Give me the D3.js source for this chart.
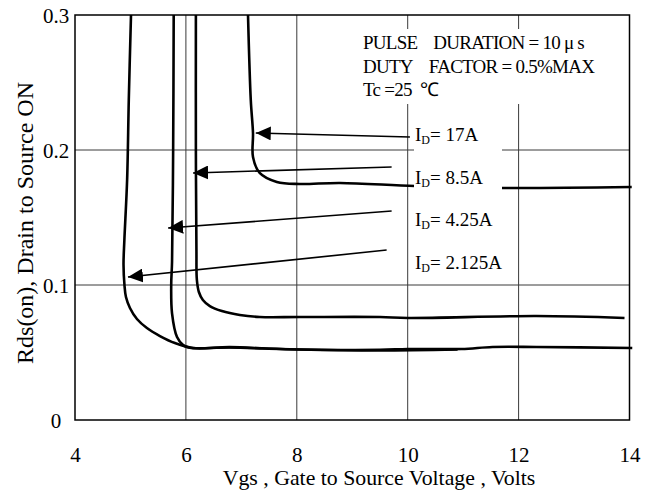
<!DOCTYPE html>
<html>
<head>
<meta charset="utf-8">
<script src="https://cdn.jsdelivr.net/npm/d3@7"></script>
<style>
  html, body { margin: 0; padding: 0; background: #fff; }
  svg { display: block; font-family: "Liberation Serif", "Times New Roman", serif; }
</style>
</head>
<body>
<svg id="chart" width="654" height="491"></svg>
<script>
// Rds(on) versus gate-source voltage, one curve per drain current
const xTicks = [4, 6, 8, 10, 12, 14];
const yTicks = [0, 0.1, 0.2, 0.3];
const yTickLabels = ["0", "0.1", "0.2", "0.3"];

// [Vgs (V), Rds(on) (ohm)]
const curve2125 = [[5.01,0.300],[4.97,0.237],[4.94,0.178],[4.89,0.133],[4.875,0.115],[4.892,0.100],
  [4.919,0.0911],[4.991,0.0830],[5.117,0.0748],[5.297,0.0681],[5.532,0.0622],[5.802,0.0570],
  [6.13,0.0533],[6.79,0.054],[7.69,0.0526],[9.50,0.052],
  [10.0,0.0526],[10.97,0.0526],[11.53,0.0541],[12.32,0.0541],[14.05,0.0533]];
const curve425 = [[5.78,0.300],[5.77,0.200],[5.75,0.117],[5.735,0.100],[5.75,0.079],[5.84,0.0615],
  [5.95,0.0556],[6.07,0.0535],[6.79,0.0537],[8.05,0.0522],[9.50,0.0515],[10.9,0.0522]];
const curve85 = [[6.18,0.300],[6.18,0.200],[6.19,0.125],[6.198,0.1037],[6.234,0.0948],[6.306,0.0889],
  [6.432,0.0844],[6.649,0.0807],[6.973,0.0778],[7.333,0.0763],[8.05,0.0763],[9.50,0.0763],
  [10.0,0.0756],[12.32,0.0770],[13.91,0.0756]];
const curve17 = [[7.12,0.300],[7.17,0.237],[7.21,0.2126],[7.21,0.1948],[7.33,0.183],[7.64,0.1763],
  [8.05,0.1748],[8.78,0.1756],[10.13,0.1733],[11.69,0.1719],[14.04,0.1726]];
const curves = [curve2125, curve425, curve85, curve17];

// Leader arrows: label end -> point on the curve
const arrowFrom = [[10.04,0.2096],[9.71,0.1874],[9.71,0.1548],[9.62,0.1259]];
const arrowTo   = [[7.26,0.2126],[6.13,0.1830],[5.68,0.1422],[4.955,0.1059]];
const currentLabels = ["17A", "8.5A", "4.25A", "2.125A"];

const headerLines = ["PULSE\u00a0\u00a0\u00a0\u00a0DURATION = 10 \u03bc s",
                     "DUTY\u00a0\u00a0\u00a0\u00a0FACTOR = 0.5%MAX",
                     "Tc =25\u00a0\u00a0\u2103"];

const svg = d3.select("#chart");
const M = { left: 75, right: 629.5, top: 15, bottom: 420 };
const x = d3.scaleLinear().domain([4, 14]).range([M.left, M.right]);
const y = d3.scaleLinear().domain([0, 0.3]).range([M.bottom, M.top]);

// grid
const grid = svg.append("g").attr("stroke", "#3a3a3a").attr("stroke-width", 1);
grid.selectAll("line.v").data(xTicks.slice(1, -1)).join("line")
  .attr("x1", d => x(d)).attr("x2", d => x(d)).attr("y1", M.top).attr("y2", M.bottom);
grid.selectAll("line.h").data(yTicks.slice(1, -1)).join("line")
  .attr("x1", M.left).attr("x2", M.right).attr("y1", d => y(d)).attr("y2", d => y(d));

// curves
const line = d3.line().x(d => x(d[0])).y(d => y(d[1])).curve(d3.curveCatmullRom.alpha(0.5));
svg.append("g").selectAll("path").data(curves).join("path")
  .attr("d", line).attr("fill", "none").attr("stroke", "#000")
  .attr("stroke-width", 2.6).attr("stroke-linejoin", "round").attr("stroke-linecap", "butt");

// text backgrounds
svg.append("rect").attr("x", 352).attr("y", 29).attr("width", 250).attr("height", 75).attr("fill", "#fff");
svg.append("rect").attr("x", 414).attr("y", 118).attr("width", 88).attr("height", 160).attr("fill", "#fff");

// frame
svg.append("rect").attr("x", M.left).attr("y", M.top)
  .attr("width", M.right - M.left).attr("height", M.bottom - M.top)
  .attr("fill", "none").attr("stroke", "#000").attr("stroke-width", 1.5);

// axes
const xAxis = svg.append("g").attr("transform", `translate(0,${M.bottom})`)
  .call(d3.axisBottom(x).tickValues(xTicks).tickSize(0).tickFormat(d3.format("d")));
xAxis.select(".domain").remove();
xAxis.selectAll("text").attr("y", 0).attr("dy", 42).attr("fill", "#000")
  .attr("font-size", 21).attr("font-family", "Liberation Serif");

const yAxis = svg.append("g").attr("transform", `translate(${M.left},0)`)
  .call(d3.axisLeft(y).tickValues(yTicks).tickSize(0).tickFormat((d, i) => yTickLabels[i]));
yAxis.select(".domain").remove();
yAxis.selectAll("text").attr("x", -19).attr("dy", 7).attr("text-anchor", "middle").attr("fill", "#000")
  .attr("font-size", 21).attr("font-family", "Liberation Serif");

// axis titles
svg.append("text").attr("x", 379).attr("y", 485)
  .attr("text-anchor", "middle").attr("font-size", 21.8).text("Vgs , Gate to Source Voltage , Volts");
svg.append("text").attr("transform", "translate(33,223) rotate(-90)")
  .attr("text-anchor", "middle").attr("font-size", 24).text("Rds(on), Drain to Source ON");

// arrows
svg.append("defs").append("marker").attr("id", "head")
  .attr("viewBox", "0 0 15 14").attr("refX", 15).attr("refY", 7)
  .attr("markerWidth", 15).attr("markerHeight", 14).attr("markerUnits", "userSpaceOnUse")
  .attr("orient", "auto")
  .append("path").attr("d", "M0,0 L15,7 L0,14 Z").attr("fill", "#000");
svg.append("g").selectAll("line").data(arrowFrom).join("line")
  .attr("x1", d => x(d[0])).attr("y1", d => y(d[1]))
  .attr("x2", (d, i) => x(arrowTo[i][0])).attr("y2", (d, i) => y(arrowTo[i][1]))
  .attr("stroke", "#000").attr("stroke-width", 1.6).attr("marker-end", "url(#head)");

// current labels
const lbl = svg.append("g").selectAll("text").data(currentLabels).join("text")
  .attr("x", 415).attr("y", (d, i) => 141 + i * 42.7).attr("font-size", 19);
lbl.append("tspan").text("I");
lbl.append("tspan").attr("font-size", 12).attr("dy", 3).text("D");
lbl.append("tspan").attr("dy", -3).text(d => "= " + d);

// test conditions
svg.append("g").selectAll("text").data(headerLines).join("text")
  .attr("x", 363).attr("y", (d, i) => 49 + i * 23.5).attr("font-size", 19)
  .attr("letter-spacing", -0.75).text(d => d);
</script>
</body>
</html>
